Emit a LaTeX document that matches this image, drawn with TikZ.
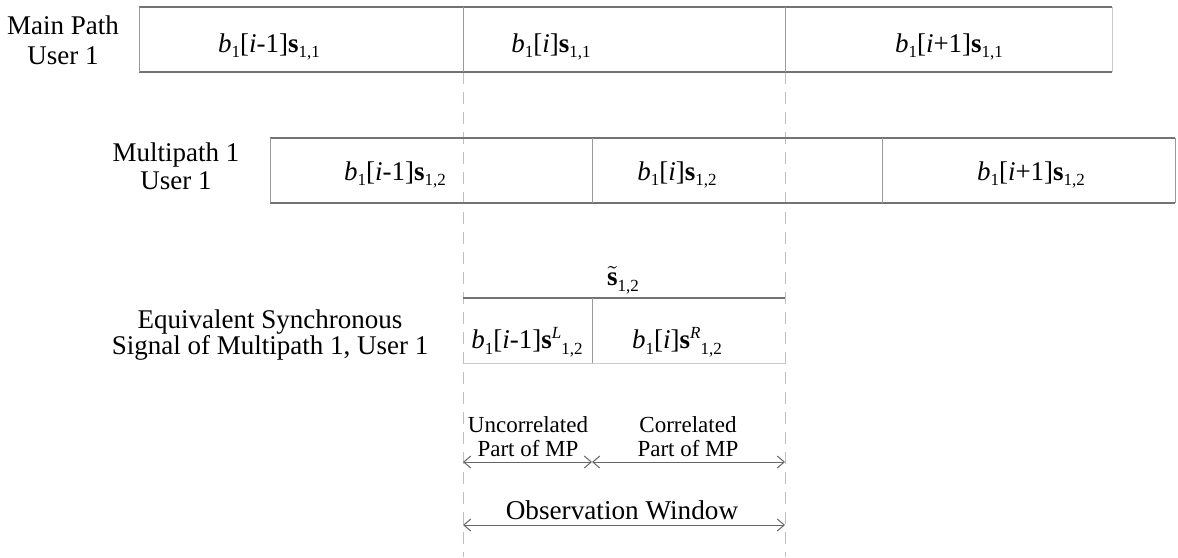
\documentclass[tikz,border=0pt]{standalone}
\usepackage{fontspec}
\setmainfont{Liberation Serif}
\usetikzlibrary{arrows.meta}
\newcommand{\ssub}[1]{\raisebox{-0.45ex}{\fontsize{8.5}{8.5}\selectfont #1}}
\newcommand{\ssup}[1]{\raisebox{0.8ex}{\fontsize{8.5}{8.5}\selectfont\textit{#1}}}
\newcommand{\bone}{\textit{b}\ssub{1}}
\newcommand{\tildes}{$\tilde{\textbf{s}}$}
\begin{document}
\begin{tikzpicture}[x=0.5pt,y=-0.5pt,
  font=\fontsize{13.5}{15}\selectfont,
  hline/.style={draw=black!55, line width=0.6pt},
  vline/.style={draw=black!40, line width=0.5pt},
  guide/.style={draw=black!25, line width=0.5pt, dash pattern=on 6pt off 4pt},
  lbl/.style={align=center, inner sep=0pt},
  celltxt/.style={inner sep=0pt},
  arr/.style={draw=black!60, line width=0.5pt, {Straight Barb[length=3.5pt,width=6pt]}-{Straight Barb[length=3.5pt,width=6pt]}}]
\useasboundingbox (0,0) rectangle (1178,557);

% guides
\coordinate (gLt) at (463,72); \coordinate (gLb) at (463,557);
\coordinate (gRt) at (785,72); \coordinate (gRb) at (785,557);
\draw[guide] (gLt) -- (gLb);
\draw[guide] (gRt) -- (gRb);

% row 1
\draw[hline] (139,7) -- (1112,7);
\draw[hline] (139,72) -- (1112,72);
\draw[vline] (139,7) -- (139,72);
\draw[vline] (463,7) -- (463,72);
\draw[vline] (785,7) -- (785,72);
\draw[draw=black!20, line width=0.5pt] (1112,7) -- (1112,72);
\node[lbl, font=\fontsize{13.5}{15}\selectfont] (mp) at (63,40) {Main Path\\User 1};
\node[celltxt] (c11) at (269,47) {\bone[\textit{i}-1]\textbf{s}\ssub{1,1}};
\node[celltxt] (c12) at (551,47) {\bone[\textit{i}]\textbf{s}\ssub{1,1}};
\node[celltxt] (c13) at (949,47) {\bone[\textit{i}+1]\textbf{s}\ssub{1,1}};

% row 2
\draw[hline] (270,138) -- (1175,138);
\draw[hline] (270,203) -- (1175,203);
\draw[vline] (270,138) -- (270,203);
\draw[vline] (592,138) -- (592,203);
\draw[vline] (882,138) -- (882,203);
\draw[vline] (1175,138) -- (1175,203);
\node[lbl, font=\fontsize{13.5}{14}\selectfont] (m1) at (176,166) {Multipath 1\\User 1};
\node[celltxt] (c21) at (395,175) {\bone[\textit{i}-1]\textbf{s}\ssub{1,2}};
\node[celltxt] (c22) at (677,175) {\bone[\textit{i}]\textbf{s}\ssub{1,2}};
\node[celltxt] (c23) at (1031,175) {\bone[\textit{i}+1]\textbf{s}\ssub{1,2}};

% row 3
\node[celltxt] (st) at (623,280) {\tildes\ssub{1,2}};
\draw[hline] (463,298) -- (785,298);
\draw[draw=black!20, line width=0.5pt] (463,363) -- (785,363);
\draw[vline] (592,298) -- (592,363);
\node[lbl, font=\fontsize{13.5}{11.5}\selectfont] (eq) at (270,335) {Equivalent Synchronous\\Signal of Multipath 1, User 1};
\node[celltxt] (c31) at (527,342) {\bone[\textit{i}-1]\textbf{s}\ssup{L}\ssub{1,2}};
\node[celltxt] (c32) at (677,342) {\bone[\textit{i}]\textbf{s}\ssup{R}\ssub{1,2}};

% bottom annotations
\node[lbl, font=\fontsize{11.5}{12}\selectfont] (unc) at (528,437) {Uncorrelated\\Part of MP};
\node[lbl, font=\fontsize{11.5}{12}\selectfont] (cor) at (688,437) {Correlated\\Part of MP};
\coordinate (a1) at (463,462);
\coordinate (a2) at (592,462);
\coordinate (a3) at (785,462);
\draw[arr] (a1) -- (a2);
\draw[arr] (a2) -- (a3);
\node[celltxt, font=\fontsize{13.6}{16}\selectfont] (ow) at (622,510) {Observation Window};
\coordinate (o1) at (463,525);
\coordinate (o2) at (785,525);
\draw[arr] (o1) -- (o2);
\end{tikzpicture}
\end{document}
